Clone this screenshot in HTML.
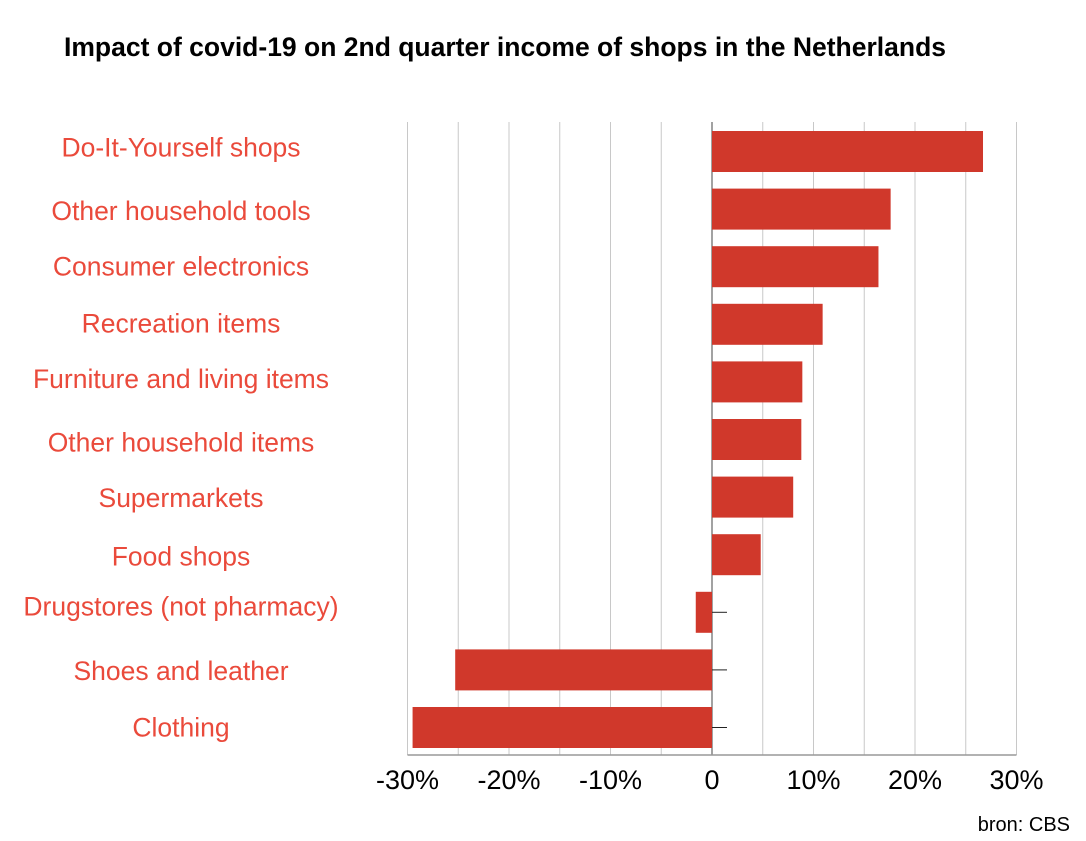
<!DOCTYPE html>
<html><head><meta charset="utf-8"><style>
body{margin:0;background:#fff;width:1086px;height:841px;overflow:hidden}
svg{display:block}
</style></head><body>
<svg id="chart" width="1086" height="841">
<text x="64" y="56" font-family="Liberation Sans, sans-serif" font-weight="bold" font-size="26.5" fill="#000">Impact of covid-19 on 2nd quarter income of shops in the Netherlands</text>
<text x="1070" y="831" text-anchor="end" font-family="Liberation Sans, sans-serif" font-size="20" fill="#000">bron: CBS</text>
<g id="grid"></g><g id="bars"></g><g id="labels"></g><g id="ticks"></g>
</svg>
<script>
const categories=["Do-It-Yourself shops","Other household tools","Consumer electronics","Recreation items","Furniture and living items","Other household items","Supermarkets","Food shops","Drugstores (not pharmacy)","Shoes and leather","Clothing"];
const values=[26.7,17.6,16.4,10.9,8.9,8.8,8.0,4.8,-1.6,-25.3,-29.5];
const tickValues=[-30,-20,-10,0,10,20,30];
const tickLabels=["-30%","-20%","-10%","0","10%","20%","30%"];
const gridValues=[-30,-25,-20,-15,-10,-5,0,5,10,15,20,25,30];
const NS="http://www.w3.org/2000/svg";
const x=v=>712+v*10.15;
const yTop=i=>131+i*57.6;
const bh=41;
const labelShift=[-4,2,0,-1,-3,3,1,2,-6,1,0];
function mk(t,a,p){const e=document.createElementNS(NS,t);for(const k in a)e.setAttribute(k,a[k]);p.appendChild(e);return e;}
const grid=document.getElementById('grid'),bars=document.getElementById('bars'),labels=document.getElementById('labels'),ticks=document.getElementById('ticks');
gridValues.forEach(v=>{
 const l=mk('line',{x1:x(v),x2:x(v),y1:122,y2:755,stroke:v===0?'#444':'#c8c8c8','stroke-width':1},grid);
 
 
});
const base=mk('line',{x1:x(-30),x2:x(30),y1:755,y2:755,stroke:'#999','stroke-width':1.5},grid);


categories.forEach((c,i)=>{
 const v=values[i];
 const r=mk('rect',{x:Math.min(x(0),x(v)),y:yTop(i),width:Math.abs(x(v)-x(0)),height:bh,fill:'#d0382b'},bars);
 
 
 if(v<0){const t=mk('line',{x1:712,x2:727,y1:yTop(i)+bh/2,y2:yTop(i)+bh/2,stroke:'#222','stroke-width':1},ticks);
  
  }
 const tx=mk('text',{x:181,y:yTop(i)+bh/2+9+labelShift[i],'text-anchor':'middle','font-family':'Liberation Sans, sans-serif','font-size':26.5,fill:'#ea4a3b'},labels);
 tx.textContent=c;
 
 
});
tickValues.forEach((v,i)=>{
 const t=mk('text',{x:x(v),y:789,'text-anchor':'middle','font-family':'Liberation Sans, sans-serif','font-size':27,fill:'#000'},ticks);
 t.textContent=tickLabels[i];
 
 
});
</script>
</body></html>
